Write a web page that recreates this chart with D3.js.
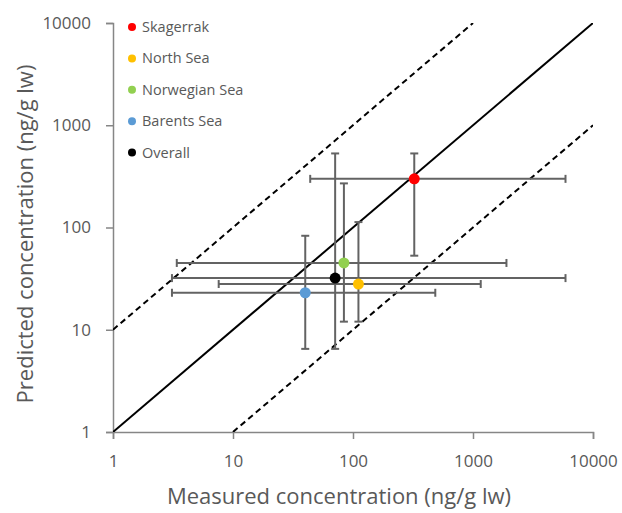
<!DOCTYPE html>
<html>
<head>
<meta charset="utf-8">
<script src="https://cdn.jsdelivr.net/npm/d3@7/dist/d3.min.js"></script>
<style>
  html, body { margin: 0; padding: 0; background: #fff; }
  svg { display: block; }
  text { font-family: "Open Sans", "Noto Sans", sans-serif; fill: #595959; }
</style>
</head>
<body>
<svg id="chart" width="622" height="513"></svg>
<script>
// Regions and their measured vs predicted concentrations (ng/g lw)
const regions = ["Skagerrak", "North Sea", "Norwegian Sea", "Barents Sea", "Overall"];
const colors = ["#FF0000", "#FFC000", "#92D050", "#5B9BD5", "#000000"];
const measured = [324, 111, 84, 40, 71];
const predicted = [299, 28, 45, 23, 32];
const measuredLow = [44, 7.6, 3.4, 3.1, 3.1];
const measuredHigh = [5900, 1160, 1900, 485, 5900];
const predictedLow = [53, 12, 12, 6.5, 6.5];
const predictedHigh = [530, 113, 270, 83, 530];
const tickValues = [1, 10, 100, 1000, 10000];

// Reference lines: 1:1 and factor-of-10 bounds
const refLines = [
  { factor: 1, dashed: false },
  { factor: 10, dashed: true },
  { factor: 0.1, dashed: true }
];

const svg = d3.select("#chart");
const margin = { left: 113, right: 29, top: 23, bottom: 81 };
const width = 622 - margin.left - margin.right;
const height = 513 - margin.top - margin.bottom;

const x = d3.scaleLog().domain([1, 10000]).range([margin.left, margin.left + width]);
const y = d3.scaleLog().domain([1, 10000]).range([margin.top + height, margin.top]);

const axisColor = "#868686";
const textColor = "#646464";

// Axes
const gx = svg.append("g")
  .attr("transform", `translate(0,${margin.top + height})`)
  .call(d3.axisBottom(x).tickValues(tickValues).tickFormat(d3.format("d")).tickSizeOuter(0).tickSize(7).tickPadding(16));
const gy = svg.append("g")
  .attr("transform", `translate(${margin.left},0)`)
  .call(d3.axisLeft(y).tickValues(tickValues).tickFormat(d3.format("d")).tickSizeOuter(0).tickSize(7).tickPadding(15));

[gx, gy].forEach(g => {
  g.select(".domain").attr("stroke", axisColor).attr("stroke-width", 1.5);
  g.selectAll(".tick line").attr("stroke", axisColor).attr("stroke-width", 1.5);
  g.selectAll(".tick text").attr("fill", textColor).style("font-size", "17px")
    .style("font-family", '"Open Sans", sans-serif');
});

// Diagonal reference lines clipped to the plot square
svg.append("clipPath").attr("id", "plotclip")
  .append("rect").attr("x", margin.left).attr("y", margin.top)
  .attr("width", width).attr("height", height);

const lineG = svg.append("g").attr("clip-path", "url(#plotclip)");
refLines.forEach(r => {
  const x0 = Math.max(1, 1 / r.factor);
  const x1 = Math.min(10000, 10000 / r.factor);
  lineG.append("line")
    .attr("x1", x(x0)).attr("y1", y(x0 * r.factor))
    .attr("x2", x(x1)).attr("y2", y(x1 * r.factor))
    .attr("stroke", "#000")
    .attr("stroke-width", 2)
    .attr("stroke-dasharray", r.dashed ? "6,4" : null);
});

// Error bars
const barColor = "#636363";
const cap = 4;
const eb = svg.append("g").attr("stroke", barColor).attr("stroke-width", 2).attr("fill", "none");
regions.forEach((name, i) => {
  const cx = x(measured[i]), cy = y(predicted[i]);
  // vertical (predicted range)
  eb.append("line").attr("x1", cx).attr("x2", cx).attr("y1", y(predictedLow[i])).attr("y2", y(predictedHigh[i]));
  eb.append("line").attr("x1", cx - cap).attr("x2", cx + cap).attr("y1", y(predictedLow[i])).attr("y2", y(predictedLow[i]));
  eb.append("line").attr("x1", cx - cap).attr("x2", cx + cap).attr("y1", y(predictedHigh[i])).attr("y2", y(predictedHigh[i]));
  // horizontal (measured range)
  eb.append("line").attr("y1", cy).attr("y2", cy).attr("x1", x(measuredLow[i])).attr("x2", x(measuredHigh[i]));
  eb.append("line").attr("y1", cy - cap).attr("y2", cy + cap).attr("x1", x(measuredLow[i])).attr("x2", x(measuredLow[i]));
  eb.append("line").attr("y1", cy - cap).attr("y2", cy + cap).attr("x1", x(measuredHigh[i])).attr("x2", x(measuredHigh[i]));
});

// Points
svg.append("g").selectAll("circle")
  .data(regions)
  .join("circle")
  .attr("cx", (d, i) => x(measured[i]))
  .attr("cy", (d, i) => y(predicted[i]))
  .attr("r", 5.5)
  .attr("fill", (d, i) => colors[i]);

// Legend
const legend = svg.append("g").attr("transform", "translate(132,27)");
regions.forEach((name, i) => {
  const row = legend.append("g").attr("transform", `translate(0,${i * 31.4})`);
  row.append("circle").attr("r", 4).attr("fill", colors[i]);
  row.append("text").attr("x", 10).attr("y", 0).attr("dy", "0.35em")
    .attr("fill", textColor)
    .style("font-size", "14.5px").text(name);
});

// Axis titles
svg.append("text")
  .attr("x", 339)
  .attr("y", 504)
  .attr("text-anchor", "middle")
  .attr("fill", textColor)
  .style("font-size", "22px")
  .text("Measured concentration (ng/g lw)");

svg.append("text")
  .attr("transform", `translate(33,234) rotate(-90)`)
  .attr("text-anchor", "middle")
  .attr("fill", textColor)
  .style("font-size", "22px")
  .text("Predicted concentration (ng/g lw)");
</script>
</body>
</html>
